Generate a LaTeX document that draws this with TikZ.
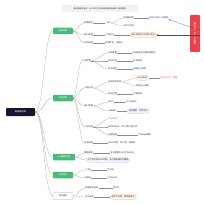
\documentclass[tikz,border=0pt]{standalone}
\usepackage{fontspec}
\setmainfont{Noto Sans CJK SC}
\usetikzlibrary{positioning, calc, arrows.meta}
\definecolor{mindgreen}{HTML}{4DB87C}
\definecolor{rootcol}{HTML}{16162C}
\definecolor{notered}{HTML}{E8434F}
\definecolor{linkgray}{HTML}{8C8C8C}
\definecolor{textgray}{HTML}{333333}
\definecolor{tipblue}{HTML}{3A46CF}
\definecolor{tipred}{HTML}{E0464E}
\definecolor{pillorange}{HTML}{F0AA7C}
\definecolor{pillorangefill}{HTML}{FFF6EE}
\definecolor{pillblue}{HTML}{AEB6EE}
\definecolor{pillbluefill}{HTML}{F4F6FF}

\begin{document}
\begin{tikzpicture}[
    x=1mm, y=-1mm,
    every node/.style={font=\fontsize{6}{7}\selectfont, text=textgray, inner sep=0.4mm},
    title/.style={rectangle, fill=gray!10, minimum width=76mm, minimum height=7mm, font=\fontsize{5.5}{6}\selectfont},
    root/.style={rectangle, rounded corners=0.8mm, fill=rootcol, text=white, minimum width=29mm, minimum height=8mm, font=\fontsize{6.5}{7}\selectfont},
    topic/.style={rectangle, rounded corners=0.8mm, fill=mindgreen, text=white, minimum width=20mm, minimum height=6.5mm, font=\fontsize{6}{7}\selectfont},
    plaintopic/.style={topic, fill=white, draw=gray!70, line width=0.5pt, text=textgray},
    note/.style={rectangle, rounded corners=0.8mm, fill=notered, text=white, minimum width=37mm, minimum height=10mm, rotate=-90, font=\fontsize{6}{7}\selectfont},
    leaf/.style={anchor=west},
    pill/.style={anchor=west, draw=pillorange, fill=pillorangefill, rounded corners=2.2mm, minimum height=4.5mm, inner xsep=1.5mm, line width=0.5pt},
    bluepill/.style={pill, draw=pillblue, fill=pillbluefill},
    link/.style={draw=linkgray, line width=0.45pt},
    twig/.style={to path={.. controls +(4,0) and +(-4,0) .. (\tikztotarget)}},
    trunk/.style={to path={.. controls +(9,0) and +(-9,0) .. (\tikztotarget)}},
    arrow/.style={-{Stealth[length=1.6mm, width=1.3mm]}, draw=gray!60!black, line width=0.5pt}
]
    \useasboundingbox (0,0) rectangle (204,204);

    % title and root
    \node[title] (title) at (100,9) {路由器选购指南：2023年热门无线路由器参数解读与选购要点};
    \node[root] (root) at (20.5,112) {路由器选购};

    % main topics
    \node[topic] (base) at (63,31) {基础参数};
    \node[topic] (func) at (63,98) {功能参数};
    \node[topic, minimum width=22mm] (cover) at (64,157) {无线覆盖范围};
    \node[topic] (price) at (63,175) {价格区间};
    \node[plaintopic] (advice) at (63,196) {购买建议};

    \foreach \t in {base, func, cover, price, advice}
        \draw[link] (root.east) to[trunk] (\t.west);

    % basic parameters
    \node[leaf] (cfg) at (84,23) {配置要求};
    \node[leaf] (cfgprod) at (105,23) {产品};
    \node[leaf] (cpu) at (123,18) {处理器性能};
    \node[leaf, text=tipblue] (cputip) at (149,18) {建议四核以上处理器};
    \node[leaf] (mem) at (123,26) {内存与闪存};
    \node[leaf] (port) at (84,35) {接口数量};
    \node[leaf] (portgb) at (105,35) {千兆网口};
    \node[pill] (porttip) at (130,35) {建议选择全千兆网口型号};
    \node[leaf] (wifi) at (84,43) {无线规格};
    \node[leaf] (wifiband) at (105,43) {双频并发，支持5G};

    \draw[link] (base.east) to[twig] (cfg.west);
    \draw[link] (base.east) to[twig] (port.west);
    \draw[link] (base.east) to[twig] (wifi.west);
    \draw[link] (cfg.east) -- (cfgprod.west);
    \draw[link] (cfgprod.east) to[twig] (cpu.west);
    \draw[link] (cfgprod.east) to[twig] (mem.west);
    \draw[link] (cpu.east) -- (cputip.west);
    \draw[link] (port.east) -- (portgb.west);
    \draw[link] (portgb.east) -- (porttip.west);
    \draw[link] (wifi.east) -- (wifiband.west);

    % red note with arrows
    \node[note] (note) at (195,33.5) {重点关注：WiFi 6与覆盖};
    \draw[arrow] ($(note.north)+(0,-3)$) -- (cputip.south east);
    \draw[arrow] (porttip.east -| note.north) -- (porttip.east);

    % function parameters
    \node[leaf] (spec) at (82,61) {产品规格};
    \node[leaf] (ant) at (108,53) {天线数量};
    \node[leaf] (anttip) at (132,53) {天线越多信号相对越稳定};
    \node[leaf] (power) at (108,61) {发射功率};
    \node[leaf] (powertip) at (133,61) {符合国标};
    \node[leaf] (signal) at (108,69) {信号强度};
    \node[leaf] (signaltip) at (133,69) {穿墙能力较强};
    \node[leaf] (opt) at (84,88) {功能选项};
    \node[leaf] (auto) at (108,82) {自动频段切换};
    \node[pill] (mesh) at (136,78) {Mesh组网};
    \node[leaf, text=tipred] (meshtip) at (160,78) {适合大户型、别墅};
    \node[leaf] (qos) at (136,86) {智能QoS调度};
    \node[leaf] (kids) at (108,94) {家长控制};
    \node[leaf] (guest) at (133,94) {访客网络};
    \node[leaf] (iface) at (84,106) {接口规格};
    \node[leaf] (wan) at (108,102) {WAN};
    \node[leaf] (wantip) at (125,102) {2.5G 自适应};
    \node[leaf] (usb) at (108,111) {USB接口};
    \node[bluepill] (usbtip) at (127,111) {可接硬盘，共享文件};
    \node[leaf] (net) at (84,127) {上网功能};
    \node[leaf, text=tipred] (ipv6) at (108,119) {IPv6支持};
    \node[leaf] (pppoe) at (108,127) {支持PPPoE、DHCP等上网方式};
    \node[leaf] (remote) at (108,135) {远程管理};
    \node[leaf] (remotetip) at (138,135) {手机App管理};
    \node[leaf] (safe) at (84,143) {安全规格};
    \node[leaf] (safetip) at (108,143) {WPA3加密、防火墙、防蹭网};

    \foreach \c in {spec, opt, iface, net, safe}
        \draw[link] (func.east) to[twig] (\c.west);
    \foreach \c in {ant, power, signal}
        \draw[link] (spec.east) to[twig] (\c.west);
    \draw[link] (ant.east) -- (anttip.west);
    \draw[link] (power.east) -- (powertip.west);
    \draw[link] (signal.east) -- (signaltip.west);
    \draw[link] (opt.east) to[twig] (auto.west);
    \draw[link] (opt.east) to[twig] (kids.west);
    \draw[link] (auto.east) to[twig] (mesh.west);
    \draw[link] (auto.east) to[twig] (qos.west);
    \draw[link] (mesh.east) -- (meshtip.west);
    \draw[link] (kids.east) -- (guest.west);
    \draw[link] (iface.east) to[twig] (wan.west);
    \draw[link] (iface.east) to[twig] (usb.west);
    \draw[link] (wan.east) -- (wantip.west);
    \draw[link] (usb.east) -- (usbtip.west);
    \foreach \c in {ipv6, pppoe, remote}
        \draw[link] (net.east) to[twig] (\c.west);
    \draw[link] (remote.east) -- (remotetip.west);
    \draw[link] (safe.east) -- (safetip.west);

    % coverage
    \node[leaf] (area) at (84,153) {覆盖面积};
    \node[leaf] (areatip) at (110,153) {单台覆盖约100平方米以上};
    \node[bluepill] (meshcover) at (86,160) {大户型可选Mesh组网，多台路由器协同覆盖};
    \draw[link] (cover.east) to[twig] (area.west);
    \draw[link] (cover.east) to[twig] (meshcover.west);
    \draw[link] (area.east) -- (areatip.west);

    % price
    \node[leaf] (entry) at (84,170) {入门级};
    \node[leaf] (entrytip) at (107,170) {百元级};
    \node[leaf] (high) at (84,178) {中高端};
    \node[leaf] (hightip) at (107,178) {三百元以上};
    \draw[link] (price.east) to[twig] (entry.west);
    \draw[link] (price.east) to[twig] (high.west);
    \draw[link] (entry.east) -- (entrytip.west);
    \draw[link] (high.east) -- (hightip.west);

    % advice
    \node[leaf] (need) at (85,188) {根据需求选择};
    \node[leaf] (needtip) at (113,188) {性价比};
    \node[leaf] (after) at (85,197) {关注售后};
    \node[pill] (aftertip) at (110,197) {选择大品牌，保修期更长};
    \draw[link] (advice.east) to[twig] (need.west);
    \draw[link] (advice.east) to[twig] (after.west);
    \draw[link] (need.east) -- (needtip.west);
    \draw[link] (after.east) -- (aftertip.west);
\end{tikzpicture}
\end{document}
